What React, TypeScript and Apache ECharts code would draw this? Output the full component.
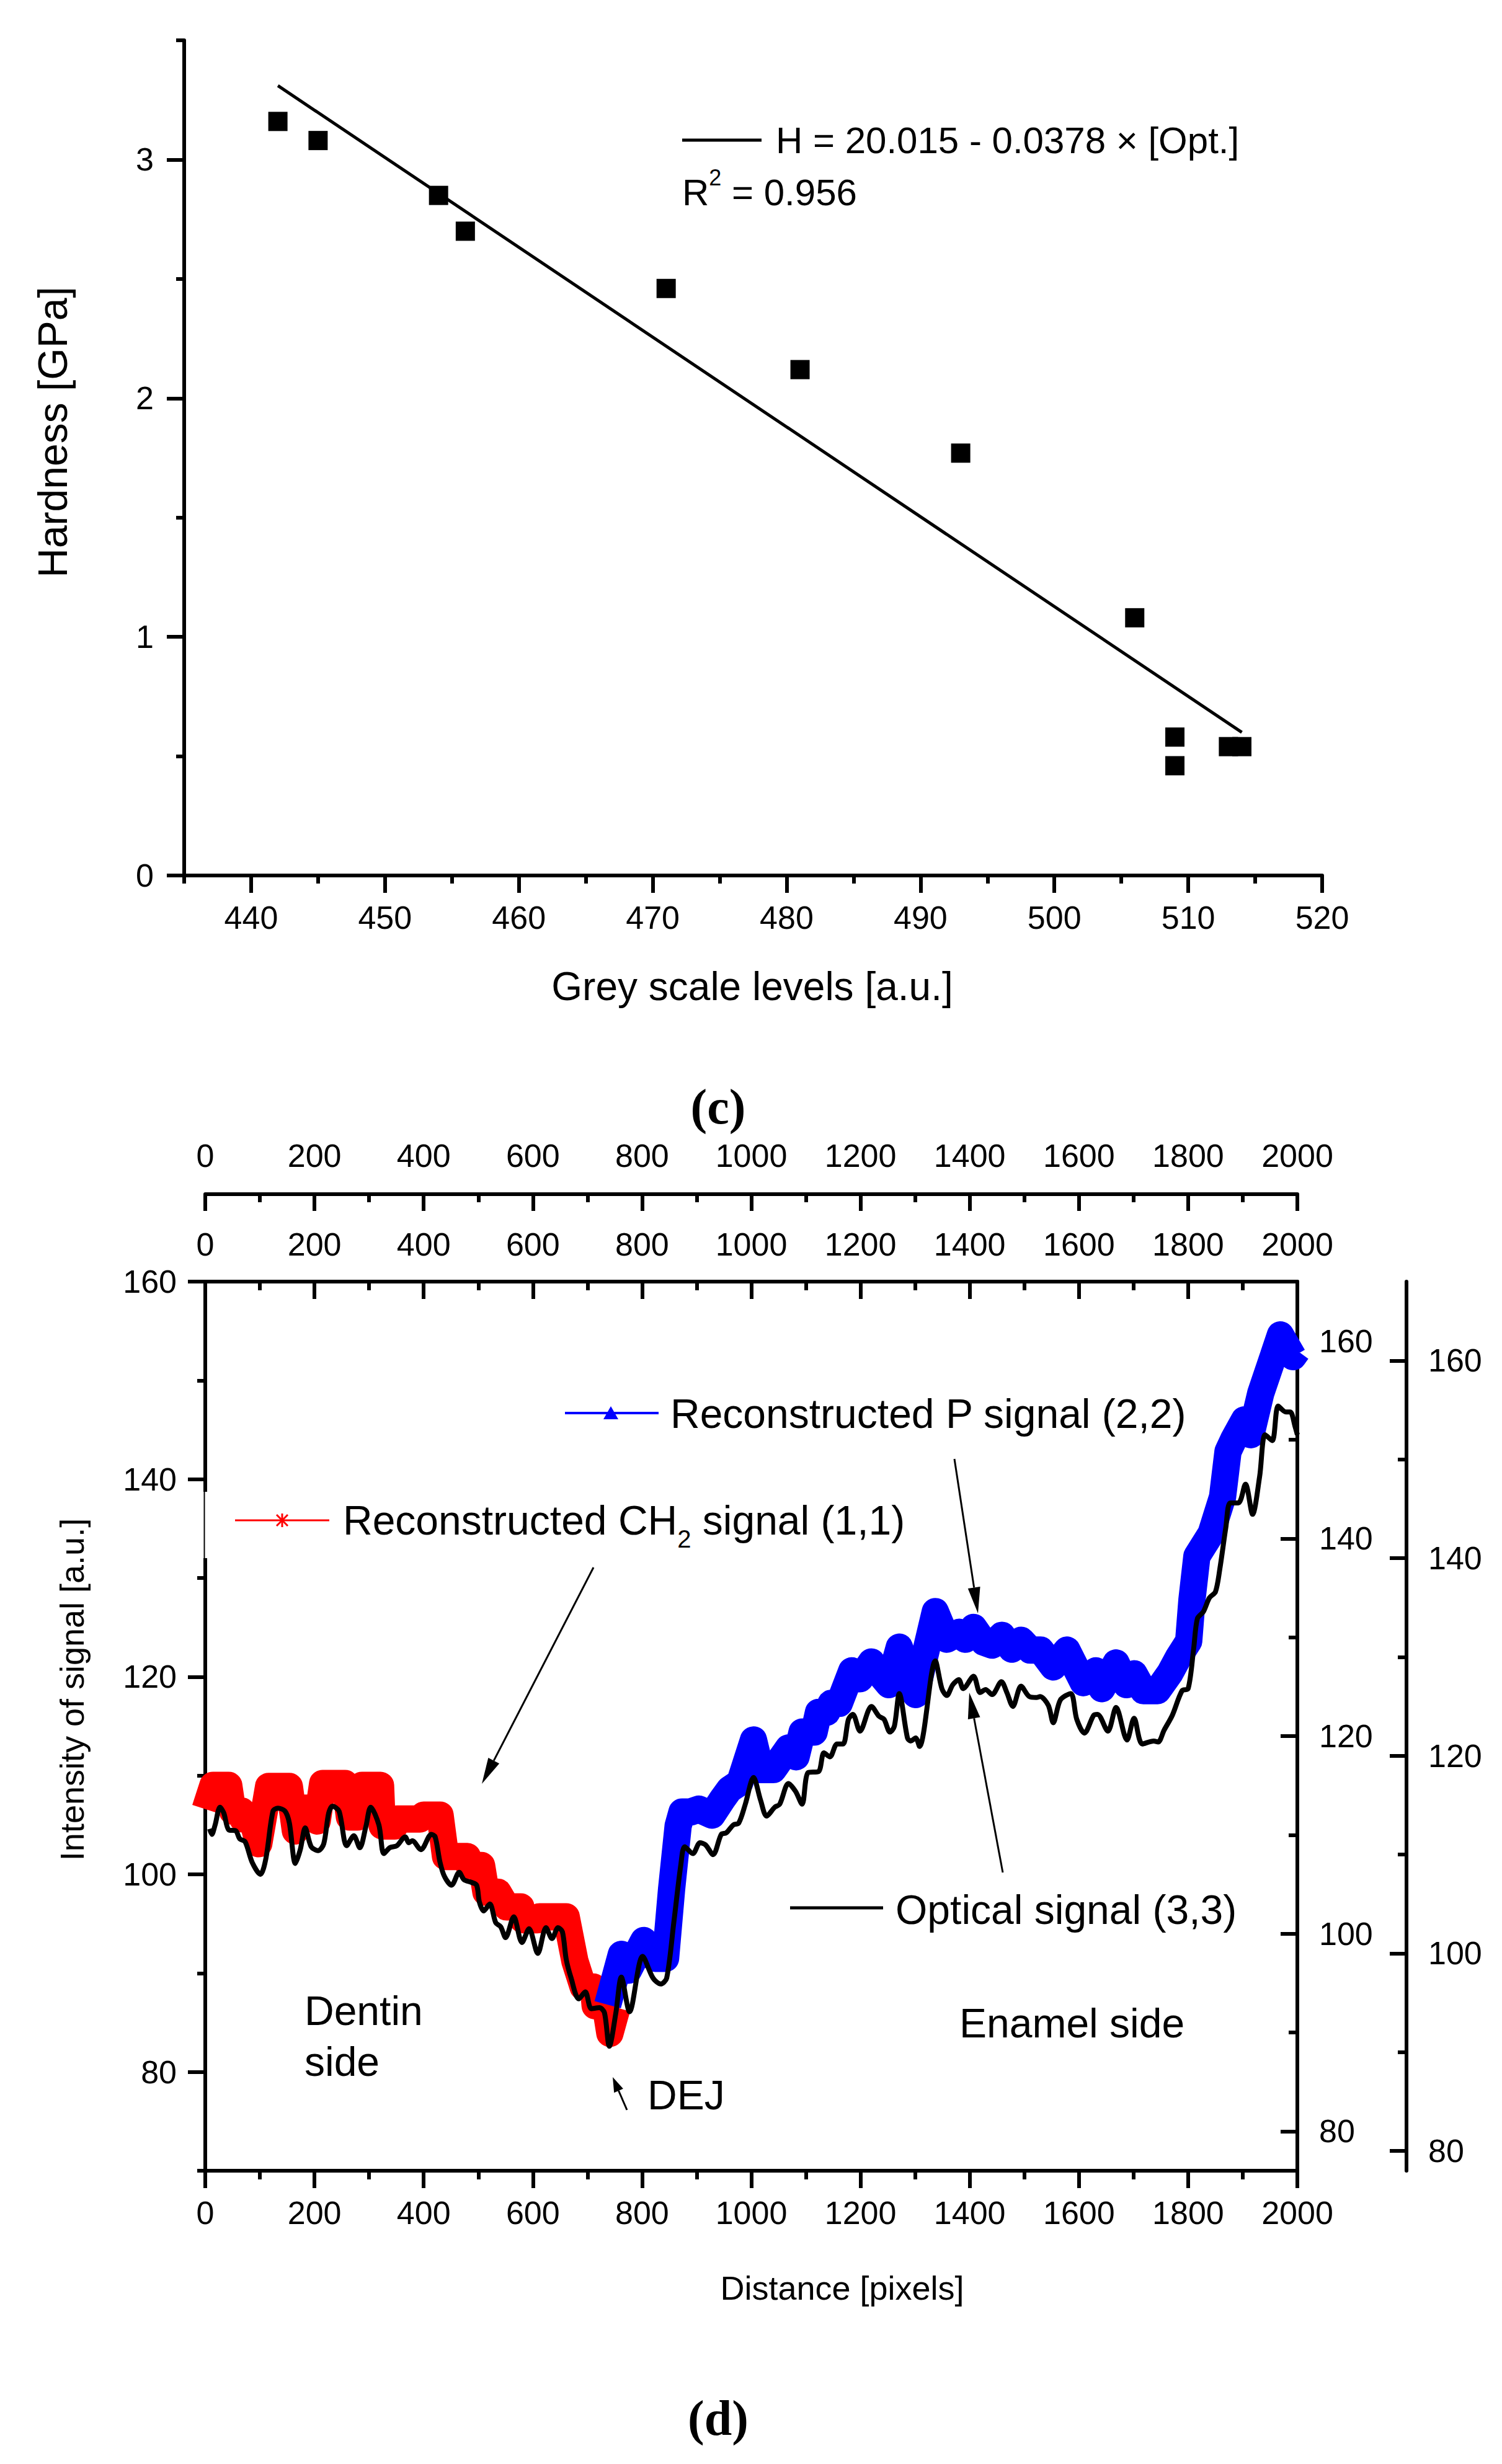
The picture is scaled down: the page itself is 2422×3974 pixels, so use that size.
import React, { useEffect, useRef } from "react";
import * as echarts from "echarts";

// ---------- Panel (c): hardness vs grey scale ----------
const greyLevels = [442, 445, 454, 456, 471, 481, 493, 506, 509, 509, 513, 514];
const hardness = [3.16, 3.08, 2.85, 2.7, 2.46, 2.12, 1.77, 1.08, 0.58, 0.46, 0.54, 0.54];
const fitGrey = [442, 514];
const fitHardness = [3.31, 0.6];
const greyTicks = [440, 450, 460, 470, 480, 490, 500, 510, 520];
const greyMinorTicks = [435, 445, 455, 465, 475, 485, 495, 505, 515];
const hardnessTicks = [0, 1, 2, 3];
const hardnessMinorTicks = [0.5, 1.5, 2.5, 3.5];

// ---------- Panel (d): signals vs distance ----------
const ch2Distance = [0, 14, 43, 50, 67, 69, 86, 98, 116, 154, 165, 171, 196, 205, 215, 256, 264, 279, 287, 321, 324, 347, 351, 393, 400, 430, 440, 480, 483, 506, 514, 536, 552, 578, 582, 608, 612, 661, 677, 692, 711, 714, 733, 741, 754];
const ch2Signal = [106.6, 109.0, 109.0, 106.4, 106.4, 105.6, 105.6, 103.1, 108.9, 108.9, 104.4, 106.7, 106.7, 105.4, 109.2, 109.2, 105.8, 105.8, 109.0, 109.0, 104.9, 104.9, 105.6, 105.6, 106.0, 106.0, 101.8, 101.8, 100.9, 100.9, 98.2, 98.2, 96.7, 96.7, 95.4, 95.4, 95.7, 95.7, 91.2, 88.6, 88.6, 86.7, 86.7, 83.9, 86.5];

const pDistance = [737, 762, 775, 803, 824, 843, 854, 866, 873, 888, 904, 928, 947, 960, 979, 1004, 1017, 1040, 1068, 1082, 1093, 1115, 1123, 1138, 1146, 1161, 1184, 1199, 1220, 1237, 1252, 1271, 1301, 1337, 1358, 1381, 1392, 1407, 1426, 1441, 1459, 1477, 1494, 1511, 1530, 1553, 1578, 1608, 1631, 1642, 1668, 1687, 1701, 1718, 1744, 1767, 1782, 1801, 1807, 1816, 1842, 1863, 1873, 1884, 1903, 1915, 1933, 1952, 1969, 1992, 2000];
const pSignal = [92.8, 97.9, 96.3, 99.3, 97.5, 97.5, 104.5, 110.9, 112.3, 112.3, 112.6, 112.0, 113.6, 114.6, 115.3, 119.6, 116.6, 116.6, 118.8, 117.9, 120.4, 120.4, 122.4, 122.4, 123.3, 123.3, 126.6, 125.8, 127.5, 126.2, 125.2, 129.0, 124.2, 132.6, 129.8, 130.5, 129.8, 131.0, 129.5, 129.2, 130.2, 128.8, 129.7, 128.7, 128.7, 127.0, 128.7, 125.4, 126.6, 124.8, 127.4, 125.2, 126.3, 124.6, 124.6, 126.4, 127.95, 129.6, 133.8, 138.2, 140.5, 144.2, 148.8, 150.1, 152.0, 150.5, 154.7, 157.8, 160.6, 158.4, 159.0];

const opticalDistance = [8, 12, 18, 27, 34, 43, 56, 63, 73, 86, 101, 111, 124, 133, 146, 154, 165, 174, 183, 194, 207, 217, 226, 233, 245, 259, 272, 283, 294, 303, 318, 327, 338, 351, 366, 373, 379, 395, 414, 421, 430, 438, 451, 465, 474, 487, 497, 502, 510, 521, 532, 541, 550, 565, 580, 593, 609, 624, 635, 646, 654, 661, 670, 684, 696, 707, 722, 731, 740, 752, 762, 777, 801, 820, 834, 845, 858, 871, 878, 893, 906, 916, 930, 945, 954, 967, 977, 989, 1004, 1017, 1028, 1043, 1052, 1068, 1081, 1093, 1104, 1123, 1133, 1144, 1157, 1168, 1178, 1186, 1199, 1220, 1234, 1243, 1254, 1262, 1271, 1286, 1292, 1301, 1308, 1337, 1349, 1358, 1369, 1380, 1388, 1407, 1419, 1429, 1441, 1458, 1468, 1479, 1494, 1509, 1522, 1529, 1544, 1553, 1566, 1585, 1596, 1610, 1627, 1634, 1653, 1668, 1688, 1701, 1716, 1737, 1745, 1756, 1771, 1789, 1800, 1810, 1817, 1828, 1839, 1850, 1858, 1869, 1877, 1892, 1905, 1918, 1931, 1941, 1954, 1965, 1979, 1987, 1996, 2000];
const opticalSignal = [112.6, 112.05, 113.0, 114.8, 114.2, 112.5, 112.4, 111.6, 111.3, 109.2, 108.0, 109.6, 114.4, 114.7, 114.4, 113.2, 109.1, 110.5, 112.7, 110.8, 110.4, 111.1, 114.2, 114.9, 114.4, 110.9, 111.9, 110.7, 112.8, 114.8, 113.0, 110.1, 110.7, 110.9, 111.8, 111.2, 111.4, 110.5, 112.05, 111.8, 109.2, 107.8, 106.9, 108.2, 107.45, 107.2, 106.9, 105.2, 104.3, 105.0, 103.1, 102.7, 101.6, 103.7, 101.1, 102.5, 100.0, 102.6, 101.5, 102.6, 102.2, 99.4, 97.5, 95.4, 96.1, 94.4, 94.5, 94.0, 90.6, 94.0, 97.6, 94.1, 99.7, 97.5, 96.9, 97.5, 103.1, 109.0, 110.8, 110.1, 111.2, 111.0, 110.0, 112.05, 112.2, 113.0, 113.2, 115.1, 117.8, 115.5, 113.9, 114.8, 115.1, 117.2, 116.4, 115.1, 118.3, 118.4, 120.3, 119.9, 121.2, 121.2, 123.7, 124.2, 122.5, 125.0, 124.0, 123.7, 122.4, 123.0, 126.3, 121.8, 121.5, 121.8, 120.95, 129.6, 126.8, 126.1, 127.2, 127.7, 126.8, 128.05, 126.4, 126.7, 126.2, 127.5, 126.4, 125.0, 127.05, 126.0, 125.9, 126.0, 125.1, 123.35, 125.65, 126.3, 123.7, 122.3, 124.1, 124.2, 122.5, 124.9, 121.6, 123.8, 121.2, 121.5, 121.4, 122.6, 124.1, 126.6, 126.8, 130.8, 133.9, 134.6, 136.0, 136.6, 138.9, 143.1, 145.6, 145.6, 147.5, 144.45, 148.3, 152.5, 151.9, 155.4, 154.8, 154.8, 153.3, 152.5];

const leftTicks = [80, 100, 120, 140, 160];
const leftMinorTicks = [70, 90, 110, 130, 150];
const rightTicks = [80, 100, 120, 140, 160];
const rightMinorTicks = [90, 110, 130, 150];

const FONT = "'Liberation Sans', Arial, Helvetica, sans-serif";
const SERIF = "'Liberation Serif', 'DejaVu Serif', serif";

const zip = (xs: number[], ys: number[]) => xs.map((x, i) => [x, ys[i]]);

const lineStyle = { color: "#000", width: 6 };
const labelBase = {
  color: "#000",
  fontSize: 52,
  fontFamily: FONT,
  formatter: (v: number) => String(v),
};

function valueAxis(o: any) {
  const {
    ticks, tickLen, labels, margin, inside, showLine = true, minorTick, ...rest
  } = o;
  return {
    type: "value",
    axisLine: { show: showLine, onZero: false, lineStyle },
    axisTick: ticks === "none"
      ? { show: false }
      : { show: true, inside: !!inside, length: tickLen, lineStyle, ...(ticks ? { customValues: ticks } : {}) },
    minorTick: minorTick || { show: false },
    axisLabel: labels === "none"
      ? { show: false }
      : { ...labelBase, show: true, margin, ...(labels ? { customValues: labels } : {}) },
    splitLine: { show: false },
    ...rest,
  };
}

function txt(x: number, y: number, text: string, size: number, extra: any = {}) {
  return {
    type: "text",
    x,
    y,
    z: 100,
    style: {
      text,
      fontSize: size,
      fontFamily: FONT,
      fill: "#000",
      align: "left",
      verticalAlign: "middle",
      ...extra,
    },
  };
}

function arrow(x1: number, y1: number, x2: number, y2: number, len: number, half: number, lw: number) {
  const dx = x2 - x1;
  const dy = y2 - y1;
  const L = Math.hypot(dx, dy);
  const ux = dx / L;
  const uy = dy / L;
  const bx = x2 - ux * len;
  const by = y2 - uy * len;
  return [
    { type: "line", z: 100, shape: { x1, y1, x2: bx, y2: by }, style: { stroke: "#000", lineWidth: lw } },
    {
      type: "polygon",
      z: 100,
      shape: { points: [[x2, y2], [bx - uy * half, by + ux * half], [bx + uy * half, by - ux * half]] },
      style: { fill: "#000" },
    },
  ];
}

function buildOption() {
  const graphics: any[] = [
    // panel (c) legend
    { type: "line", z: 100, shape: { x1: 1100, y1: 226, x2: 1228, y2: 226 }, style: { stroke: "#000", lineWidth: 5 } },
    txt(1251, 226, "H = 20.015 - 0.0378 × [Opt.]", 60),
    {
      type: "text",
      x: 1100,
      y: 310,
      z: 100,
      style: {
        text: "{a|R}{b|2}{a| = 0.956}",
        align: "left",
        verticalAlign: "middle",
        rich: {
          a: { fontSize: 60, fontFamily: FONT, fill: "#000", lineHeight: 84 },
          b: { fontSize: 36, fontFamily: FONT, fill: "#000", lineHeight: 40, verticalAlign: "top" },
        },
      },
    },
    txt(1213, 1591, "Grey scale levels [a.u.]", 64, { align: "center" }),
    { ...txt(85, 697, "Hardness [GPa]", 66, { align: "center" }), rotation: Math.PI / 2 },
    txt(1158, 1785, "(c)", 80, { align: "center", fontFamily: SERIF, fontWeight: "bold" }),
    txt(1158, 3900, "(d)", 80, { align: "center", fontFamily: SERIF, fontWeight: "bold" }),

    // panel (d) axis titles
    { ...txt(116, 2725, "Intensity of signal [a.u.]", 54, { align: "center" }), rotation: Math.PI / 2 },
    txt(1358, 3690, "Distance [pixels]", 54, { align: "center" }),

    // gap in left axis (legend box)
    { type: "rect", z: 90, shape: { x: 324, y: 2406, width: 14, height: 107 }, style: { fill: "#fff" } },
    { type: "line", z: 95, shape: { x1: 329.5, y1: 2406, x2: 329.5, y2: 2513 }, style: { stroke: "#000", lineWidth: 2 } },

    // CH2 legend
    { type: "line", z: 100, shape: { x1: 379, y1: 2452, x2: 531, y2: 2452 }, style: { stroke: "#ff0000", lineWidth: 3 } },
    { type: "line", z: 100, shape: { x1: 455, y1: 2441, x2: 455, y2: 2463 }, style: { stroke: "#ff0000", lineWidth: 3 } },
    { type: "line", z: 100, shape: { x1: 446, y1: 2443, x2: 464, y2: 2461 }, style: { stroke: "#ff0000", lineWidth: 3 } },
    { type: "line", z: 100, shape: { x1: 446, y1: 2461, x2: 464, y2: 2443 }, style: { stroke: "#ff0000", lineWidth: 3 } },
    {
      type: "text",
      x: 553,
      y: 2452,
      z: 100,
      style: {
        text: "{a|Reconstructed CH}{b|2}{a| signal (1,1)}",
        align: "left",
        verticalAlign: "middle",
        rich: {
          a: { fontSize: 66, fontFamily: FONT, fill: "#000", lineHeight: 100 },
          b: { fontSize: 40, fontFamily: FONT, fill: "#000", lineHeight: 40, verticalAlign: "bottom" },
        },
      },
    },

    // P legend
    { type: "line", z: 100, shape: { x1: 911, y1: 2279, x2: 1062, y2: 2279 }, style: { stroke: "#0000ff", lineWidth: 4 } },
    { type: "polygon", z: 100, shape: { points: [[985, 2268], [997, 2289], [973, 2289]] }, style: { fill: "#0000ff" } },
    txt(1081, 2280, "Reconstructed P signal (2,2)", 66),

    // Optical legend
    { type: "line", z: 100, shape: { x1: 1274, y1: 3077, x2: 1424, y2: 3077 }, style: { stroke: "#000", lineWidth: 5 } },
    txt(1444, 3080, "Optical signal (3,3)", 66),

    // annotations
    txt(491, 3243, "Dentin", 66),
    txt(491, 3325, "side", 66),
    txt(1547, 3263, "Enamel side", 66),
    txt(1044, 3379, "DEJ", 66),
    ...arrow(957, 2528, 777, 2877, 42, 10, 3),
    ...arrow(1539, 2353, 1577, 2602, 42, 10, 3),
    ...arrow(1617, 3020, 1563, 2730, 42, 10, 3),
    ...arrow(1011, 3403, 988, 3350, 24, 8, 3),
  ];

  return {
    animation: false,
    backgroundColor: "#fff",
    grid: [
      { left: 297, top: 65, width: 1835, height: 1347, containLabel: false, outerBoundsMode: "none" },
      { left: 331, top: 2067, width: 1761, height: 1434, containLabel: false, outerBoundsMode: "none" },
    ],
    xAxis: [
      valueAxis({ gridIndex: 0, min: 435, max: 520, position: "bottom", ticks: greyTicks, tickLen: 28, labels: greyTicks, margin: 42 }),
      valueAxis({ gridIndex: 0, min: 435, max: 520, position: "bottom", ticks: greyMinorTicks, tickLen: 13, labels: "none", showLine: false }),
      valueAxis({
        gridIndex: 1, min: 0, max: 2000, interval: 200, position: "bottom", tickLen: 28, margin: 42,
        minorTick: { show: true, splitNumber: 2, length: 14, lineStyle },
      }),
      valueAxis({
        gridIndex: 1, min: 0, max: 2000, interval: 200, position: "top", tickLen: 28, inside: true, margin: 34,
        minorTick: { show: true, splitNumber: 2, length: 14, lineStyle },
      }),
      valueAxis({
        gridIndex: 1, min: 0, max: 2000, interval: 200, position: "top", offset: 141, tickLen: 27, inside: true, margin: 36,
        minorTick: { show: true, splitNumber: 2, length: 13, lineStyle },
      }),
    ],
    yAxis: [
      valueAxis({ gridIndex: 0, min: 0, max: 3.5, position: "left", ticks: hardnessTicks, tickLen: 28, labels: hardnessTicks, margin: 49 }),
      valueAxis({ gridIndex: 0, min: 0, max: 3.5, position: "left", ticks: hardnessMinorTicks, tickLen: 13, labels: "none", showLine: false }),
      valueAxis({ gridIndex: 1, min: 70, max: 160, position: "left", ticks: leftTicks, tickLen: 28, labels: leftTicks, margin: 46 }),
      valueAxis({ gridIndex: 1, min: 70, max: 160, position: "left", ticks: leftMinorTicks, tickLen: 13, labels: "none", showLine: false }),
      valueAxis({ gridIndex: 1, min: 76, max: 166, position: "right", ticks: rightTicks, tickLen: 27, inside: true, labels: rightTicks, margin: 35 }),
      valueAxis({ gridIndex: 1, min: 76, max: 166, position: "right", ticks: rightMinorTicks, tickLen: 14, inside: true, labels: "none", showLine: false }),
      valueAxis({ gridIndex: 1, min: 78, max: 168, position: "right", offset: 176, ticks: rightTicks, tickLen: 27, inside: true, labels: rightTicks, margin: 35 }),
      valueAxis({ gridIndex: 1, min: 78, max: 168, position: "right", offset: 176, ticks: rightMinorTicks, tickLen: 14, inside: true, labels: "none", showLine: false }),
    ],
    series: [
      {
        name: "Hardness",
        type: "scatter",
        xAxisIndex: 0,
        yAxisIndex: 0,
        symbol: "rect",
        symbolSize: 31,
        itemStyle: { color: "#000", opacity: 1 },
        data: zip(greyLevels, hardness),
        silent: true,
      },
      {
        name: "Linear fit",
        type: "line",
        xAxisIndex: 0,
        yAxisIndex: 0,
        showSymbol: false,
        lineStyle: { color: "#000", width: 5 },
        data: zip(fitGrey, fitHardness),
        silent: true,
      },
      {
        name: "Reconstructed CH2 signal (1,1)",
        type: "line",
        xAxisIndex: 2,
        yAxisIndex: 2,
        showSymbol: false,
        lineStyle: { color: "#ff0000", width: 44, join: "round" },
        data: zip(ch2Distance, ch2Signal),
        silent: true,
      },
      {
        name: "Reconstructed P signal (2,2)",
        type: "line",
        xAxisIndex: 3,
        yAxisIndex: 4,
        showSymbol: false,
        lineStyle: { color: "#0000ff", width: 44, join: "round" },
        data: zip(pDistance, pSignal),
        silent: true,
      },
      {
        name: "Optical signal (3,3)",
        type: "line",
        xAxisIndex: 4,
        yAxisIndex: 6,
        showSymbol: false,
        smooth: 0.3,
        lineStyle: { color: "#000", width: 8, join: "round" },
        data: zip(opticalDistance, opticalSignal),
        silent: true,
      },
    ],
    graphic: graphics,
  };
}

export default function App() {
  const ref = useRef<HTMLDivElement>(null);
  useEffect(() => {
    if (!ref.current) return;
    const chart = echarts.init(ref.current, null, { renderer: "svg", width: 2422, height: 3974 });
    chart.setOption(buildOption() as any);
    return () => chart.dispose();
  }, []);
  return (
    <div
      ref={ref}
      style={{ position: "absolute", left: 0, top: 0, width: 2422, height: 3974, background: "#fff" }}
    />
  );
}
